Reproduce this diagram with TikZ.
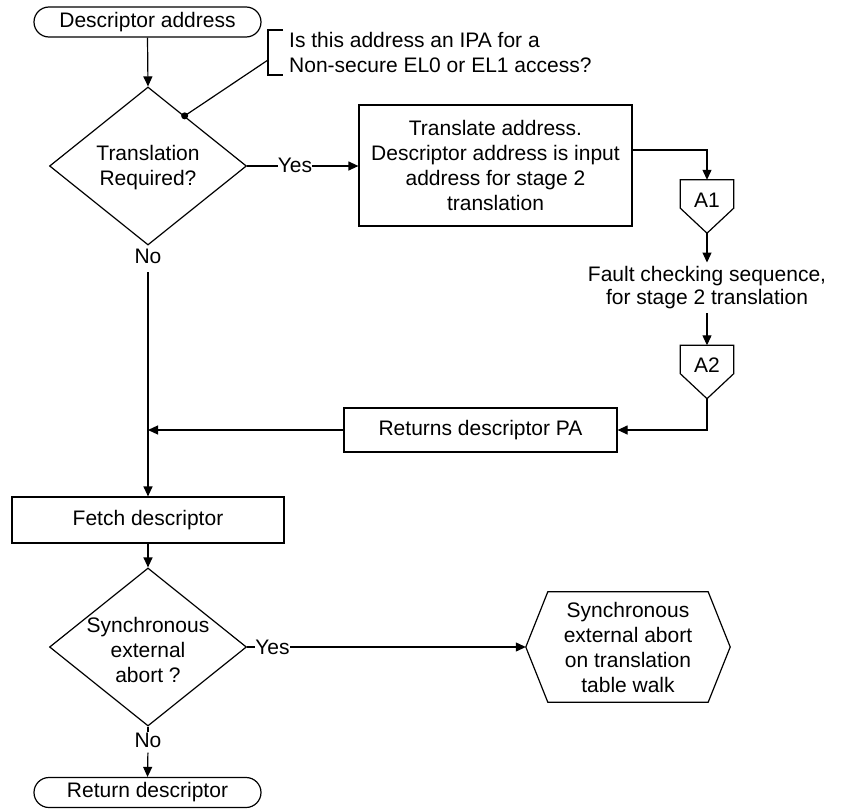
\documentclass[tikz,border=0pt]{standalone}
\usepackage{fontspec}
\setmainfont{Liberation Sans}
\usetikzlibrary{arrows.meta,shapes.geometric,shapes.misc,calc}
\begin{document}
\begin{tikzpicture}[x=1pt,y=-1pt,
  every node/.style={font=\fontsize{21}{25}\selectfont, inner sep=0pt},
  line/.style={line width=1.2pt},
  arr/.style={line, -{Triangle[length=10pt,width=9pt]}},
  term/.style={rounded rectangle, draw, line width=1.2pt, minimum width=227pt, minimum height=30pt},
  box/.style={rectangle, draw, line width=1.2pt, align=center},
  dec/.style={diamond, draw, line width=1.2pt},
  lbl/.style={align=center},
  offpage/.style={minimum width=53pt, minimum height=53pt, text depth=13pt}]
\useasboundingbox (0,0) rectangle (841,809);

% nodes
\node[term] (start) at (147.5,22) {Descriptor address};
\node[dec, minimum width=197pt, minimum height=158pt] (d1) at (148,166) {};
\node[lbl] (d1t) at (148,168) {Translation\\Required?};
\node[anchor=west, align=left] (note) at (289,52.5) {Is this address an IPA for a\\Non-secure EL0 or EL1 access?};
\node (yes1) at (295,165) {Yes};
\node[box, minimum width=273pt, minimum height=121pt] (trans) at (495.5,165.5) {Translate address.\\Descriptor address is input\\address for stage 2\\translation};
\node[offpage] (a1) at (707,206.5) {A1};
\node[lbl, font=\fontsize{21}{23}\selectfont, inner ysep=4pt] (fault) at (707,288) {Fault checking sequence,\\for stage 2 translation};
\node[offpage] (a2) at (707,372) {A2};
\node[box, minimum width=273pt, minimum height=44pt] (pa) at (480.5,430) {Returns descriptor PA};
\node (no1) at (148,256.5) {No};
\node[box, minimum width=272pt, minimum height=46pt] (fetch) at (148,520) {Fetch descriptor};
\node[dec, minimum width=197pt, minimum height=158pt] (d2) at (148,647) {};
\node[lbl] (d2t) at (148,650) {Synchronous\\external\\abort ?};
\node (yes2) at (272.5,647) {Yes};
\node[lbl, minimum width=204pt, minimum height=110pt] (abort) at (628,647) {Synchronous\\external abort\\on translation\\table walk};
\node (no2) at (148,740) {No};
\node[term] (end) at (147.5,792.5) {Return descriptor};

% off-page connector shapes
\draw[line] (a1.north west) -- (a1.north east) -- ([yshift=25pt]a1.south east) -- (a1.south) -- ([yshift=25pt]a1.south west) -- cycle;
\draw[line] (a2.north west) -- (a2.north east) -- ([yshift=25pt]a2.south east) -- (a2.south) -- ([yshift=25pt]a2.south west) -- cycle;
% hexagon
\draw[line] (abort.west) -- ([xshift=22pt]abort.north west) -- ([xshift=-22pt]abort.north east) -- (abort.east) -- ([xshift=-22pt]abort.south east) -- ([xshift=22pt]abort.south west) -- cycle;

% annotation bracket
\coordinate (brt) at (283,30);
\coordinate (brb) at (283,75);
\coordinate (brk) at (268,60);
\coordinate (dot) at ($(d1.north)!0.37!(d1.east)$);
\draw[line] (brt) -- (brt -| brk) -- (brb -| brk) -- (brb);
\draw[line] (brk) -- (dot);
\fill (dot) circle (3.5pt);

% connectors
\draw[arr] (start.south) -- (d1.north);
\draw[line] (d1.east) -- (d1.east -| yes1.west);
\draw[arr] (d1.east -| yes1.east) -- (d1.east -| trans.west);
\draw[arr] ([yshift=15.5pt]trans.east) -| (a1.north);
\draw[arr] (a1.south) -- (fault.north);
\draw[arr] (fault.south) -- (a2.north);
\draw[arr] (a2.south) |- (pa.east);
\draw[arr] (pa.west) -- (pa.west -| no1.south);
\draw[arr, shorten <=8pt] (no1.south) -- (fetch.north);
\draw[arr] (fetch.south) -- (d2.north);
\draw[line] (d2.east) -- (yes2.west);
\draw[arr] (yes2.east) -- (abort.west);
\draw[line] (d2.south) -- (no2.north);
\draw[arr, shorten <=5pt] (no2.south) -- (end.north);
\end{tikzpicture}
\end{document}
